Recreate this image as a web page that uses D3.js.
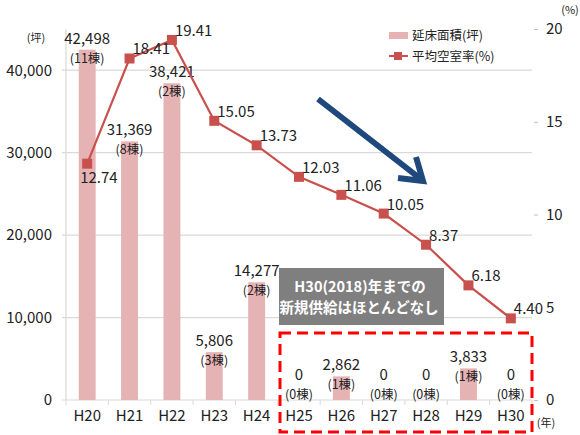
<!DOCTYPE html>
<html>
<head>
<meta charset="utf-8">
<script src="https://cdn.jsdelivr.net/npm/d3@7"></script>
<style>
    body { margin: 0; background: #fff; }
    svg text { font-family: "Noto Sans CJK JP", "Noto Sans", sans-serif; fill: #222; }
</style>
</head>
<body>
<svg width="580" height="435"></svg>
<script>
var years = ['H20', 'H21', 'H22', 'H23', 'H24', 'H25', 'H26', 'H27', 'H28', 'H29', 'H30'];
var floorArea = [42498, 31369, 38421, 5806, 14277, 0, 2862, 0, 0, 3833, 0];
var buildings = [11, 8, 2, 3, 2, 0, 1, 0, 0, 1, 0];
var vacancy = [12.74, 18.41, 19.41, 15.05, 13.73, 12.03, 11.06, 10.05, 8.37, 6.18, 4.40];
var leftTicks = [0, 10000, 20000, 30000, 40000];
var rightTicks = [0, 5, 10, 15, 20];

var barColor = '#e6b3b5';
var lineColor = '#c8504d';

var svg = d3.select('svg');
// note: "top" clashes with window.top, so plot edges get their own names
var plotLeft = 66, plotRight = 532, plotTop = 29, plotBottom = 400;

var x = d3.scaleBand().domain(years).range([plotLeft, plotRight]).paddingInner(0.6).paddingOuter(0.3);
var xc = function (d) { return x(d) + x.bandwidth() / 2; };
var yL = d3.scaleLinear().domain([0, 45000]).range([plotBottom, plotTop]);
var yR = d3.scaleLinear().domain([0, 20]).range([plotBottom, plotTop]);

//////////////////////   GRID + AXES    //////////////////////

svg.append('g')
    .selectAll('line')
    .data(leftTicks)
    .enter()
    .append('line')
    .attr('x1', plotLeft - 4)
    .attr('x2', plotRight)
    .attr('y1', function (d) { return yL(d); })
    .attr('y2', function (d) { return yL(d); })
    .style('stroke', '#d9d9d9')
    .style('stroke-width', 1.2);

svg.append('line')
    .attr('x1', plotLeft).attr('x2', plotLeft)
    .attr('y1', plotTop).attr('y2', plotBottom)
    .style('stroke', '#d9d9d9').style('stroke-width', 1.2);

var leftAxis = svg.append('g')
    .attr('transform', 'translate(' + (plotLeft - 2) + ',0)')
    .call(d3.axisLeft(yL).tickValues(leftTicks).tickSize(0).tickPadding(12).tickFormat(d3.format(',')));
leftAxis.select('.domain').remove();
leftAxis.selectAll('text').style('font-size', '15px').style('fill', '#222');

var rightAxis = svg.append('g')
    .attr('transform', 'translate(' + (plotRight + 2) + ',0)')
    .call(d3.axisRight(yR).tickValues(rightTicks).tickSize(4).tickPadding(8));
rightAxis.select('.domain').remove();
rightAxis.selectAll('line').style('stroke', '#bfbfbf');
rightAxis.selectAll('text').style('font-size', '15px').style('fill', '#222');

// category ticks between bars
svg.append('g')
    .selectAll('line')
    .data(d3.range(years.length + 1))
    .enter()
    .append('line')
    .attr('x1', function (i) { return plotLeft + i * (plotRight - plotLeft) / years.length; })
    .attr('x2', function (i) { return plotLeft + i * (plotRight - plotLeft) / years.length; })
    .attr('y1', plotBottom)
    .attr('y2', plotBottom + 5)
    .style('stroke', '#d9d9d9');

var xAxis = svg.append('g')
    .attr('transform', 'translate(0,' + plotBottom + ')')
    .call(d3.axisBottom(x).tickSize(0).tickPadding(10));
xAxis.select('.domain').remove();
xAxis.selectAll('text').style('font-size', '15px').style('fill', '#222');

svg.append('text').attr('x', 36).attr('y', 42).attr('text-anchor', 'middle')
    .style('font-size', '11px').text('(坪)');
svg.append('text').attr('x', 570).attr('y', 14).attr('text-anchor', 'middle')
    .style('font-size', '11px').text('(%)');
svg.append('text').attr('x', 546).attr('y', 427).attr('text-anchor', 'middle')
    .style('font-size', '11px').text('(年)');

//////////////////////   BARS    //////////////////////

svg.append('g')
    .selectAll('rect')
    .data(floorArea)
    .enter()
    .append('rect')
    .attr('x', function (d, i) { return x(years[i]); })
    .attr('y', function (d) { return yL(d); })
    .attr('width', x.bandwidth())
    .attr('height', function (d) { return plotBottom - yL(d); })
    .style('fill', barColor);

var labelY = function (d) { return Math.min(yL(d) - 11, plotBottom - 25); };

svg.append('g')
    .selectAll('text')
    .data(floorArea)
    .enter()
    .append('text')
    .attr('x', function (d, i) { return xc(years[i]); })
    .attr('y', function (d) { return labelY(d) + 5; })
    .attr('text-anchor', 'middle')
    .style('font-size', '15px')
    .text(function (d) { return d3.format(',')(d); });

svg.append('g')
    .selectAll('text')
    .data(buildings)
    .enter()
    .append('text')
    .attr('x', function (d, i) { return xc(years[i]); })
    .attr('y', function (d, i) { return labelY(floorArea[i]) + 24; })
    .attr('text-anchor', 'middle')
    .style('font-size', '12.5px')
    .text(function (d) { return '(' + d + '棟)'; });

//////////////////////   LINE    //////////////////////

var line = d3.line()
    .x(function (d, i) { return xc(years[i]); })
    .y(function (d) { return yR(d); });

svg.append('path')
    .datum(vacancy)
    .attr('d', line)
    .style('fill', 'none')
    .style('stroke', lineColor)
    .style('stroke-width', 2.2);

svg.append('g')
    .selectAll('rect')
    .data(vacancy)
    .enter()
    .append('rect')
    .attr('x', function (d, i) { return xc(years[i]) - 5; })
    .attr('y', function (d) { return yR(d) - 5; })
    .attr('width', 10)
    .attr('height', 10)
    .style('fill', lineColor);

svg.append('g')
    .selectAll('text')
    .data(vacancy)
    .enter()
    .append('text')
    .attr('x', function (d, i) { return xc(years[i]) + (i === 0 ? -7 : 3); })
    .attr('y', function (d, i) { return yR(d) + (i === 0 ? 19 : -4); })
    .style('font-size', '15px')
    .text(function (d) { return d3.format('.2f')(d); });

//////////////////////   LEGEND    //////////////////////

var legend = svg.append('g');
legend.append('rect').attr('x', 389).attr('y', 32).attr('width', 19).attr('height', 7)
    .style('fill', barColor);
legend.append('text').attr('x', 412).attr('y', 40).style('font-size', '12.5px').text('延床面積(坪)');
legend.append('line').attr('x1', 389).attr('x2', 408).attr('y1', 56).attr('y2', 56)
    .style('stroke', lineColor).style('stroke-width', 2);
legend.append('rect').attr('x', 394).attr('y', 52).attr('width', 8).attr('height', 8)
    .style('fill', lineColor);
legend.append('text').attr('x', 412).attr('y', 61).style('font-size', '12.5px').text('平均空室率(%)');

//////////////////////   ANNOTATIONS    //////////////////////

svg.append('path')
    .attr('d', 'M318,99L422,180M398,178L423,181L416,157')
    .style('fill', 'none')
    .style('stroke', '#1f487c')
    .style('stroke-width', 6)
    .style('stroke-linejoin', 'miter');

svg.append('rect')
    .attr('x', 279).attr('y', 268).attr('width', 165).attr('height', 57)
    .style('fill', '#7f7f7f');
svg.append('text').attr('x', 360).attr('y', 292).attr('text-anchor', 'middle')
    .style('font-size', '14.5px').style('fill', '#fff').style('font-weight', 'bold')
    .text('H30(2018)年までの');
svg.append('text').attr('x', 359).attr('y', 313).attr('text-anchor', 'middle')
    .style('font-size', '14.5px').style('fill', '#fff').style('font-weight', 'bold')
    .text('新規供給はほとんどなし');

svg.append('rect')
    .attr('x', 280).attr('y', 333).attr('width', 252).attr('height', 99)
    .style('fill', 'none')
    .style('stroke', '#ff0000')
    .style('stroke-width', 3)
    .style('stroke-dasharray', '11,6');
</script>
</body>
</html>
